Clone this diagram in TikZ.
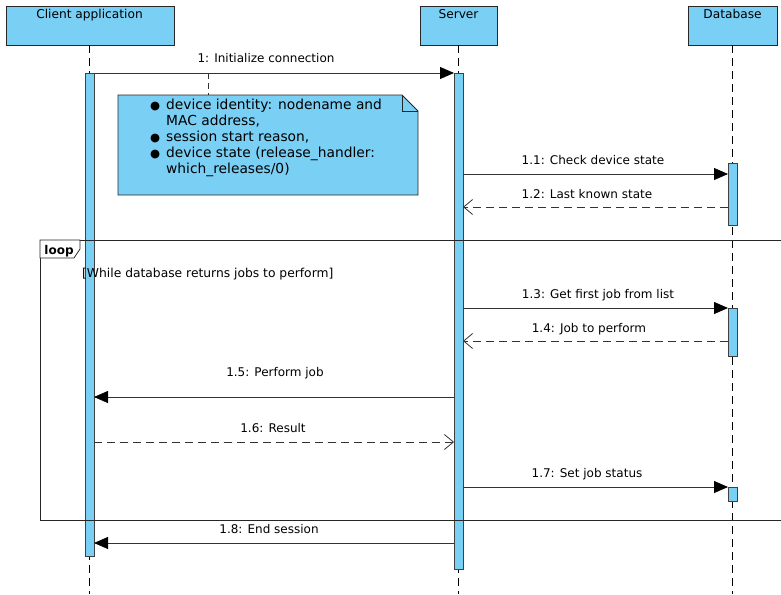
\documentclass[tikz,border=0pt]{standalone}
\usepackage{fontspec}
\setmainfont{DejaVu Sans}
\usetikzlibrary{arrows.meta}
\definecolor{umlblue}{RGB}{122,207,245}
\tikzset{
  hdr/.style={draw=black!85, fill=umlblue, line width=0.8pt},
  lifeln/.style={draw=black, line width=0.9pt, dash pattern=on 8pt off 5pt},
  actbar/.style={draw=black!75, fill=umlblue, line width=0.8pt},
  msg/.style={draw=black!80, line width=0.8pt, -{Triangle[length=14pt,width=12pt,black]}},
  reply/.style={draw=black!80, line width=0.8pt, dash pattern=on 8pt off 5pt, -{Straight Barb[length=9pt,width=15pt]}},
  lbl/.style={anchor=base, font=\fontsize{12}{14}\selectfont, inner sep=0pt},
  hdrtxt/.style={anchor=base, font=\fontsize{12.2}{14}\selectfont, inner sep=0pt},
}
\begin{document}
\begin{tikzpicture}[x=1pt,y=-1pt]
\useasboundingbox (0,0) rectangle (781,594);
\clip (0,0) rectangle (781,594);
% headers
\draw[hdr] (6,6) rectangle (174,45);
\draw[hdr] (420,6) rectangle (497,45);
\draw[hdr] (688,6) rectangle (777,45);
\node[hdrtxt] (hc) at (89.5,19) {Client application};
\node[hdrtxt] (hs) at (458.5,19) {Server};
\node[hdrtxt] (hd) at (732.5,19) {Database};
% lifelines
\coordinate (cTop) at (89.5,45); \coordinate (cBot) at (89.5,594);
\coordinate (sTop) at (458.5,45); \coordinate (sBot) at (458.5,594);
\coordinate (dTop) at (732.5,45); \coordinate (dBot) at (732.5,594);
\draw[lifeln] (cTop) -- (cBot);
\draw[lifeln] (sTop) -- (sBot);
\draw[lifeln] (dTop) -- (dBot);
% activation bars
\draw[actbar] (85,73) rectangle (94,556);
\draw[actbar] (454,73) rectangle (463,569);
\draw[actbar] (728,163) rectangle (737,225);
\draw[actbar] (728,308) rectangle (737,356);
\draw[actbar] (728,487) rectangle (737,501);
% message 1
\coordinate (m1a) at (94,73); \coordinate (m1b) at (454,73);
\draw[msg] (m1a) -- (m1b);
\node[lbl] (l1) at (266,63) {1: Initialize connection};
% note
\coordinate (nA) at (208,73); \coordinate (nB) at (208,95);
\draw[draw=black!80, line width=0.8pt, dash pattern=on 6pt off 4pt] (nA) -- (nB);
\draw[draw=black!85, fill=umlblue, line width=0.8pt]
  (118,95) -- (402,95) -- (418,111) -- (418,195) -- (118,195) -- cycle;
\draw[draw=black!85, line width=0.8pt] (402,95) -- (402,111) -- (418,111);
\node[anchor=north west, align=left, inner sep=0pt, font=\fontsize{13.8}{16}\selectfont] (note) at (150,98.5)
 {\makebox[16pt][l]{\fontsize{11.5}{16}\selectfont ●}device identity: nodename and\\
  \hspace*{16pt}MAC address,\\
  \makebox[16pt][l]{\fontsize{11.5}{16}\selectfont ●}session start reason,\\
  \makebox[16pt][l]{\fontsize{11.5}{16}\selectfont ●}device state (release\_handler:\\
  \hspace*{16pt}which\_releases/0)};
% 1.1 / 1.2
\coordinate (m11a) at (463,174); \coordinate (m11b) at (728,174);
\draw[msg] (m11a) -- (m11b);
\node[lbl] (l11) at (593,164) {1.1: Check device state};
\coordinate (m12a) at (728,207); \coordinate (m12b) at (463,207);
\draw[reply] (m12a) -- (m12b);
\node[lbl] (l12) at (587,198) {1.2: Last known state};
% loop frame
\draw[draw=black!85, line width=0.8pt] (40,240) rectangle (800,520);
\draw[draw=black!85, fill=white, line width=0.8pt] (40,240) -- (80,240) -- (80,249) -- (74,258) -- (40,258) -- cycle;
\node[anchor=base, inner sep=0pt, font=\fontsize{12}{14}\selectfont\bfseries] (looplbl) at (59,254) {loop};
\node[anchor=base west, inner sep=0pt, font=\fontsize{12.3}{14}\selectfont] (guard) at (82,277) {[While database returns jobs to perform]};
% 1.3 / 1.4
\coordinate (m13a) at (463,308); \coordinate (m13b) at (728,308);
\draw[msg] (m13a) -- (m13b);
\node[lbl] (l13) at (598,298) {1.3: Get first job from list};
\coordinate (m14a) at (728,341); \coordinate (m14b) at (463,341);
\draw[reply] (m14a) -- (m14b);
\node[lbl] (l14) at (589,332) {1.4: Job to perform};
% 1.5 / 1.6
\coordinate (m15a) at (454,397); \coordinate (m15b) at (94,397);
\draw[msg] (m15a) -- (m15b);
\node[lbl] (l15) at (275,376) {1.5: Perform job};
\coordinate (m16a) at (94,442); \coordinate (m16b) at (454,442);
\draw[reply] (m16a) -- (m16b);
\node[lbl] (l16) at (273,432) {1.6: Result};
% 1.7
\coordinate (m17a) at (463,487); \coordinate (m17b) at (728,487);
\draw[msg] (m17a) -- (m17b);
\node[lbl] (l17) at (587,477) {1.7: Set job status};
% 1.8
\coordinate (m18a) at (454,543); \coordinate (m18b) at (94,543);
\draw[msg] (m18a) -- (m18b);
\node[lbl] (l18) at (269,533) {1.8: End session};
\end{tikzpicture}
\end{document}
